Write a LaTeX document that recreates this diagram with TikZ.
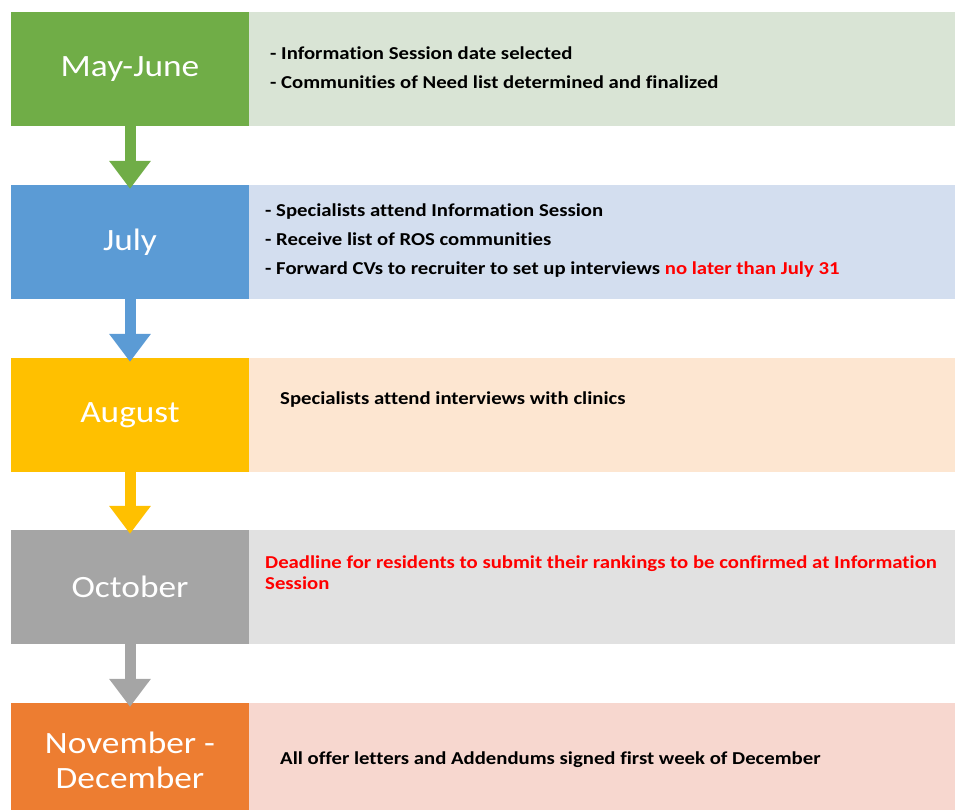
\documentclass[tikz,border=0pt]{standalone}
\usepackage{fontspec}
\setmainfont{Carlito}[FakeStretch=1.14, Ligatures=NoCommon]
\usetikzlibrary{arrows.meta, positioning}
\definecolor{mGreen}{HTML}{70AD47}
\definecolor{mGreenL}{HTML}{D9E4D5}
\definecolor{mBlue}{HTML}{5B9BD5}
\definecolor{mBlueL}{HTML}{D3DEEF}
\definecolor{mGold}{HTML}{FFC000}
\definecolor{mGoldL}{HTML}{FDE6D1}
\definecolor{mGrey}{HTML}{A5A5A5}
\definecolor{mGreyL}{HTML}{E1E1E1}
\definecolor{mOrange}{HTML}{ED7D31}
\definecolor{mOrangeL}{HTML}{F7D7CF}
\definecolor{mRed}{HTML}{FF0000}

\begin{document}
\begin{tikzpicture}[x=1pt, y=-1pt,
  month/.style={minimum width=238pt, minimum height=114pt, inner sep=0pt,
    text=white, align=center, font=\fontsize{31}{35}\selectfont},
  panel/.style={minimum width=706pt, minimum height=114pt, inner sep=0pt,
    right=0pt of #1},
  note/.style={anchor=west, inner sep=0pt, align=left,
    font=\bfseries\fontsize{18.2}{29}\selectfont},
  flow/.style={line width=11pt, -{Triangle[width=40pt, length=28pt]},
    shorten >=-4pt}]
  \useasboundingbox (0,0) rectangle (956,810);

  % month blocks down the left side
  \node[month, fill=mGreen]  (may) at (130,69)  {May-June};
  \node[month, fill=mBlue]   (jul) at (130,242) {July};
  \node[month, fill=mGold]   (aug) at (130,415) {August};
  \node[month, fill=mGrey]   (oct) at (130,587) {October};
  \node[month, fill=mOrange] (nov) at (130,760) {November -\\December};

  % light panels beside them
  \node[panel=may, fill=mGreenL]  (maybox) {};
  \node[panel=jul, fill=mBlueL]   (julbox) {};
  \node[panel=aug, fill=mGoldL]   (augbox) {};
  \node[panel=oct, fill=mGreyL]   (octbox) {};
  \node[panel=nov, fill=mOrangeL] (novbox) {};

  % what happens in each period
  \node[note] (maytxt) at (270,67.5) {- Information Session date selected\\
    - Communities of Need list determined and finalized};
  \node[note] (jultxt) at (265,241) {- Specialists attend Information Session\\
    - Receive list of ROS communities\\
    - Forward CVs to recruiter to set up interviews \textcolor{mRed}{no later than July 31}};
  \node[note] (augtxt) at (280,400) {Specialists attend interviews with clinics};
  \node[note, text=mRed, font=\bfseries\fontsize{18.2}{21}\selectfont] (octtxt) at (265,572.5)
    {Deadline for residents to submit their rankings to be confirmed at Information\\Session};
  \node[note] (novtxt) at (280,760) {All offer letters and Addendums signed first week of December};

  % arrows between the periods
  \draw[flow, mGreen] (may) -- (jul);
  \draw[flow, mBlue]  (jul) -- (aug);
  \draw[flow, mGold]  (aug) -- (oct);
  \draw[flow, mGrey]  (oct) -- (nov);
\end{tikzpicture}
\end{document}
